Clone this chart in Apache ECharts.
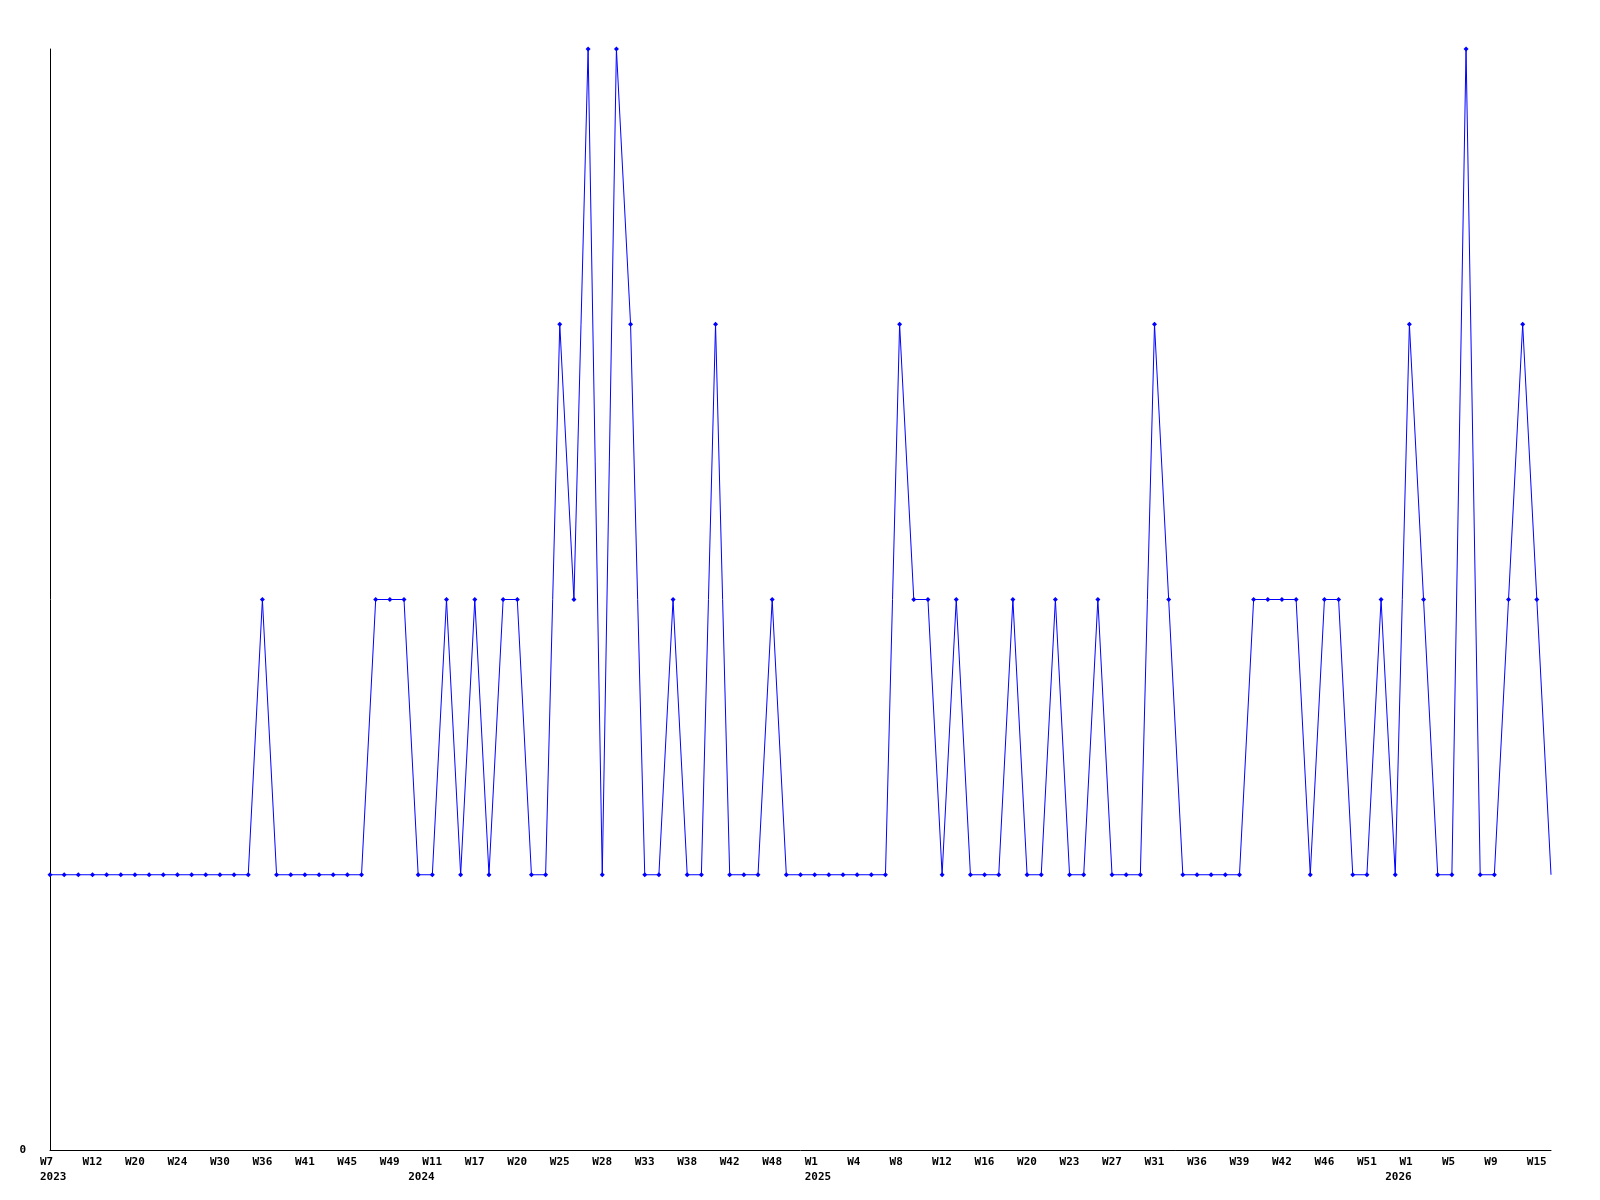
<!DOCTYPE html>
<html>
<head>
<meta charset="utf-8">
<script src="https://cdn.jsdelivr.net/npm/echarts@6/dist/echarts.min.js"></script>
<style>
html,body{margin:0;padding:0;background:#fff;}
#chart{width:1600px;height:1200px;}
</style>
</head>
<body>
<div id="chart"></div>
<script>
// Week categories (one per data point)
const weeks = [
  'W7','W9','W10','W12','W14','W17','W20','W21','W22','W24',
  'W26','W28','W30','W32','W34','W36','W38','W39','W41','W42',
  'W43','W45','W46','W47','W49','W51','W3','W11','W13','W15',
  'W17','W18','W19','W20','W22','W23','W25','W26','W27','W28',
  'W30','W31','W33','W35','W36','W38','W39','W40','W42','W44',
  'W46','W48','W50','W52','W1','W2','W3','W4','W5','W6',
  'W8','W9','W10','W12','W13','W14','W16','W17','W18','W20',
  'W21','W22','W23','W24','W25','W27','W28','W29','W31','W33',
  'W34','W36','W37','W38','W39','W40','W41','W42','W43','W44',
  'W46','W48','W49','W51','W52','W53','W1','W2','W3','W5',
  'W6','W8','W9','W11','W13','W15','W16'
];
// Year labels and the category index where each is shown
const yearLabels = ['2023','2024','2025','2026'];
const yearIndex = [0, 26, 54, 95];
// Values
const values = [
  1,1,1,1,1,1,1,1,1,1,
  1,1,1,1,1,2,1,1,1,1,
  1,1,1,2,2,2,1,1,2,1,
  2,1,2,2,1,1,3,2,4,1,
  4,3,1,1,2,1,1,3,1,1,
  1,2,1,1,1,1,1,1,1,1,
  3,2,2,1,2,1,1,1,2,1,
  1,2,1,1,2,1,1,1,3,2,
  1,1,1,1,1,2,2,2,2,1,
  2,2,1,1,2,1,3,2,1,1,
  4,1,1,2,3,2,1
];
const yTickLabels = ['0'];

const FONT = 'DejaVu Sans Mono';
const chart = echarts.init(document.getElementById('chart'), null, {renderer: 'canvas'});
chart.setOption({
  animation: false,
  backgroundColor: '#ffffff',
  grid: {left: 50, top: 49, right: 49, bottom: 50, containLabel: false},
  xAxis: {
    type: 'category',
    data: weeks,
    boundaryGap: false,
    axisLine: {show: true, lineStyle: {color: '#000', width: 1}},
    axisTick: {show: false},
    splitLine: {show: false},
    axisLabel: {
      interval: 0,
      margin: 5,
      color: '#000',
      fontFamily: FONT,
      fontWeight: 'bold',
      fontSize: 11,
      formatter: function (val, idx) {
        const w = (idx % 3 === 0) ? val : '';
        const yi = yearIndex.indexOf(idx);
        const y = yi >= 0 ? yearLabels[yi] : '';
        if (!w && !y) return '';
        return '{w|' + (w || ' ') + '}\n{w|' + (y || ' ') + '}';
      },
      rich: {
        w: {width: 20, align: 'left', lineHeight: 15, fontFamily: FONT, fontWeight: 'bold', fontSize: 11, color: '#000'}
      }
    }
  },
  yAxis: {
    type: 'value',
    min: 0,
    max: 4,
    interval: 1,
    axisLine: {show: true, lineStyle: {color: '#000', width: 1}},
    axisTick: {show: false},
    splitLine: {show: false},
    axisLabel: {
      margin: 24,
      color: '#000',
      fontFamily: FONT,
      fontWeight: 'bold',
      fontSize: 11,
      formatter: function (v) { return v === 0 ? yTickLabels[0] : ''; }
    }
  },
  series: [{
    type: 'line',
    data: values,
    lineStyle: {color: '#0000ff', width: 1},
    itemStyle: {color: '#0000ff'},
    symbol: function (v, p) { return p.dataIndex === values.length - 1 ? 'none' : 'diamond'; },
    symbolSize: 5,
    showSymbol: true,
    emphasis: {disabled: true}
  }]
});
</script>
</body>
</html>
